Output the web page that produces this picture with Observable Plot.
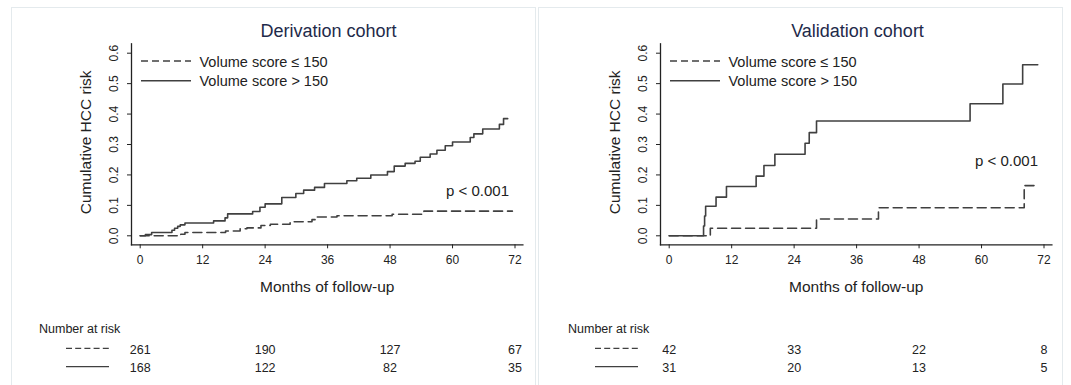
<!DOCTYPE html>
<html>
<head>
<meta charset="utf-8">
<script src="https://cdn.jsdelivr.net/npm/d3@7"></script>
<script src="https://cdn.jsdelivr.net/npm/@observablehq/plot@0.6"></script>
<style>
  body { margin: 0; background: #fff; }
  #root { position: relative; width: 1071px; height: 385px; overflow: hidden; font-family: "Liberation Sans", Arial, sans-serif; }
  .frame { position: absolute; top: 6.5px; height: 420px; border: 1.5px solid #e4eaed; box-sizing: border-box; }
  .slot { position: absolute; }
</style>
</head>
<body>
<div id="root"></div>
<script>
// ---------------- data ----------------
const panelTitles = ["Derivation cohort", "Validation cohort"];
const groups = ["Volume score \u2264 150", "Volume score > 150"];
const monthTicks = [0, 12, 24, 36, 48, 60, 72];
const riskTicks = [0, 0.1, 0.2, 0.3, 0.4, 0.5, 0.6];
const pLabel = "p < 0.001";
const pLabelRisk = [0.131, 0.23];

// Derivation cohort: [month, cumulative risk] step points
const derivationLow = [
  [0, 0], [7.8, 0.005], [8.6, 0.011], [16.4, 0.016], [19.2, 0.023], [20.5, 0.026],
  [23.2, 0.034], [25, 0.038], [28.8, 0.046], [33, 0.053], [33.8, 0.062], [37.8, 0.066],
  [48.4, 0.071], [54.5, 0.081], [71.5, 0.081]
];
const derivationHigh = [
  [0, 0], [1, 0.004], [2.2, 0.011], [6.1, 0.018], [6.6, 0.025], [7.2, 0.031], [7.7, 0.036],
  [8.6, 0.042], [14.1, 0.049], [16.3, 0.059], [16.8, 0.072], [21.6, 0.08], [23, 0.094],
  [24, 0.105], [27.2, 0.126], [29.9, 0.139], [31.4, 0.15], [33.5, 0.159], [35.4, 0.172],
  [39.7, 0.181], [41.6, 0.189], [44.3, 0.2], [47.5, 0.211], [48.8, 0.229], [50.9, 0.238],
  [52.8, 0.245], [53.8, 0.258], [55.7, 0.269], [57, 0.281], [58.6, 0.296], [60, 0.308],
  [63.4, 0.323], [64.1, 0.335], [65.8, 0.351], [69, 0.366], [69.8, 0.385], [70.6, 0.385]
];

// Validation cohort
const validationLow = [
  [0, 0], [7.9, 0.025], [28.3, 0.055], [40.2, 0.092], [68.2, 0.165], [70.9, 0.165]
];
const validationHigh = [
  [0, 0], [6.6, 0.032], [6.8, 0.065], [7.0, 0.097], [9.0, 0.127], [11.0, 0.162],
  [16.7, 0.196], [18.2, 0.231], [20.3, 0.268], [26.1, 0.304], [26.9, 0.339], [28.3, 0.377],
  [57.8, 0.434], [64.1, 0.499], [67.9, 0.562], [70.8, 0.562]
];

// Number at risk table
const riskTableMonths = [0, 24, 48, 72];
const derivationAtRiskLow = [261, 190, 127, 67];
const derivationAtRiskHigh = [168, 122, 82, 35];
const validationAtRiskLow = [42, 33, 22, 8];
const validationAtRiskHigh = [31, 20, 13, 5];

// ---------------- drawing ----------------
const FONT = "Liberation Sans, Arial, sans-serif";
const INK = "#222";
const CURVE = "#404040";
const root = document.getElementById("root");

const xScale = {domain: [0, 72], insetLeft: 8.7, insetRight: 7.9};
const mL = 131, mR = 17.6;

function legend(svg) {
  const g = d3.select(svg).append("g").attr("font-family", FONT).attr("font-size", 14.5)
    .attr("fill", INK).attr("text-anchor", "start");
  const rows = [{y: 61, dash: "7,4"}, {y: 80.7, dash: null}];
  rows.forEach((r, i) => {
    g.append("line").attr("x1", 141).attr("x2", 191).attr("y1", r.y).attr("y2", r.y)
      .attr("stroke", CURVE).attr("stroke-width", 1.4).attr("stroke-dasharray", r.dash);
    g.append("text").attr("x", 199.5).attr("y", r.y + 0.6).attr("dy", "0.35em").text(groups[i]);
  });
}

function mainPlot(title, low, high, pRisk) {
  const svg = Plot.plot({
    width: 540, height: 300,
    marginLeft: mL, marginRight: mR, marginTop: 43.3, marginBottom: 55.7,
    x: xScale,
    y: {domain: [0, 0.6], insetTop: 9.4, insetBottom: 9},
    style: {fontFamily: FONT, color: INK, background: "transparent", overflow: "visible"},
    marks: [
      Plot.frame({anchor: "left", stroke: INK, strokeWidth: 1.3}),
      Plot.frame({anchor: "bottom", stroke: INK, strokeWidth: 1.3}),
      Plot.axisX(monthTicks, {tickSize: 4, tickPadding: 7, fontSize: 12, label: null, stroke: INK}),
      Plot.axisY(riskTicks, {tickSize: 4, tickFormat: () => "", label: null, stroke: INK}),
      Plot.text(riskTicks, {y: d => d, text: d => d.toFixed(1), frameAnchor: "left", textAnchor: "middle", lineAnchor: "middle", dx: -17, rotate: -90, fontSize: 12, fill: INK}),
      Plot.line(low, {x: d => d[0], y: d => d[1], curve: "step-after", stroke: CURVE, strokeWidth: 1.6, strokeDasharray: "9,5"}),
      Plot.line(high, {x: d => d[0], y: d => d[1], curve: "step-after", stroke: CURVE, strokeWidth: 1.6}),
      Plot.text([title], {text: d => d, frameAnchor: "top", textAnchor: "middle", dx: 1.3, dy: -12.6, lineAnchor: "middle", fontSize: 18, fill: "#1e2a4a"}),
      Plot.text(["Cumulative HCC risk"], {text: d => d, frameAnchor: "left", textAnchor: "middle", dx: -45.6, dy: -2, rotate: -90, lineAnchor: "middle", fontSize: 15.5, fill: INK}),
      Plot.text(["Months of follow-up"], {text: d => d, frameAnchor: "bottom", textAnchor: "middle", dy: 42.2, lineAnchor: "middle", fontSize: 15.5, fill: INK}),
      Plot.text([pLabel], {text: d => d, x: () => 72, y: () => pRisk, textAnchor: "end", lineAnchor: "bottom", dx: -6, fontSize: 15, fill: INK})
    ]
  });
  legend(svg);
  return svg;
}

function tablePlot(lowCounts, highCounts) {
  const rows = riskTableMonths.flatMap((m, i) => [
    {m, g: groups[0], n: lowCounts[i]},
    {m, g: groups[1], n: highCounts[i]}
  ]);
  const svg = Plot.plot({
    width: 540, height: 85,
    marginLeft: mL, marginRight: mR, marginTop: 48.3, marginBottom: 18.3,
    x: {...xScale, axis: null},
    y: {type: "point", domain: groups, padding: 0, axis: null},
    style: {fontFamily: FONT, color: INK, background: "transparent", overflow: "visible"},
    marks: [
      Plot.text(rows, {x: "m", y: "g", text: "n", fontSize: 12.5, fill: INK})
    ]
  });
  const g = d3.select(svg).append("g").attr("font-family", FONT).attr("fill", INK).attr("text-anchor", "start");
  g.append("text").attr("x", 39).attr("y", 28.3).attr("dy", "0.35em").attr("font-size", 12.5).text("Number at risk");
  [[48.3, "6,3.2"], [66.7, null]].forEach(([y, dash]) => {
    g.append("line").attr("x1", 66).attr("x2", 109).attr("y1", y).attr("y2", y)
      .attr("stroke", CURVE).attr("stroke-width", 1.2).attr("stroke-dasharray", dash);
  });
  return svg;
}

// frames
[[11, 524.5], [538.3, 525]].forEach(([l, w]) => {
  const f = document.createElement("div");
  f.className = "frame";
  f.style.left = l + "px";
  f.style.width = w + "px";
  root.appendChild(f);
});

const panels = [
  {off: 0, title: panelTitles[0], low: derivationLow, high: derivationHigh, p: pLabelRisk[0], tl: derivationAtRiskLow, th: derivationAtRiskHigh},
  {off: 528.5, title: panelTitles[1], low: validationLow, high: validationHigh, p: pLabelRisk[1], tl: validationAtRiskLow, th: validationAtRiskHigh}
];
panels.forEach(p => {
  const a = document.createElement("div");
  a.className = "slot";
  a.style.left = p.off + "px";
  a.style.top = "0px";
  a.appendChild(mainPlot(p.title, p.low, p.high, p.p));
  root.appendChild(a);
  const b = document.createElement("div");
  b.className = "slot";
  b.style.left = p.off + "px";
  b.style.top = "300px";
  b.appendChild(tablePlot(p.tl, p.th));
  root.appendChild(b);
});
</script>
</body>
</html>
